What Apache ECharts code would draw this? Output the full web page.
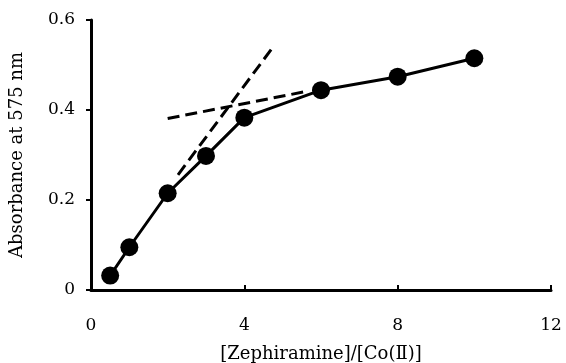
<!DOCTYPE html>
<html>
<head>
<meta charset="utf-8">
<script src="https://cdn.jsdelivr.net/npm/echarts@6/dist/echarts.min.js"></script>
</head>
<body style="margin:0">
<div id="chart" style="width:566px;height:363px"></div>
<script>
// measured points
const ratio = [0.5, 1, 2, 3, 4, 6, 8, 10];
const absorbance = [0.032, 0.095, 0.215, 0.298, 0.383, 0.444, 0.474, 0.515];
// tangent lines (dashed)
const steepLine = [[2.27, 0.256], [4.74, 0.539]];
const flatLine = [[2.0, 0.381], [5.54, 0.44]];

const font = "'DejaVu Serif', 'Liberation Serif', serif";
const chart = echarts.init(document.getElementById("chart"));
const dashStyle = { color: "#000", width: 3, type: [12, 6] };
let option = {
  animation: false,
  grid: { left: 91, right: 15, top: 20, bottom: 73, outerBoundsMode: "none" },
  xAxis: {
    type: "value",
    min: 0,
    max: 12,
    interval: 4,
    name: "[Zephiramine]/[Co(Ⅱ)]",
    nameLocation: "middle",
    nameGap: 55,
    nameTextStyle: { fontFamily: font, fontSize: 18, color: "#000" },
    axisLine: { onZero: false, lineStyle: { color: "#000", width: 3 } },
    axisTick: { inside: true, length: 5, lineStyle: { color: "#000", width: 2 } },
    axisLabel: { margin: 27, fontFamily: font, fontSize: 17, color: "#000" },
    splitLine: { show: false },
  },
  yAxis: {
    type: "value",
    min: 0,
    max: 0.6,
    interval: 0.2,
    name: "Absorbance at 575 nm",
    nameLocation: "middle",
    nameGap: 65,
    nameTextStyle: { fontFamily: font, fontSize: 18, color: "#000" },
    axisLine: { show: true, lineStyle: { color: "#000", width: 3 } },
    axisTick: { show: true, length: 5, lineStyle: { color: "#000", width: 2 } },
    axisLabel: { margin: 16, fontFamily: font, fontSize: 17, color: "#000" },
    splitLine: { show: false },
  },
  series: [
    {
      type: "line",
      data: steepLine,
      showSymbol: false,
      lineStyle: dashStyle,
      z: 1,
    },
    {
      type: "line",
      data: flatLine,
      showSymbol: false,
      lineStyle: dashStyle,
      z: 1,
    },
    {
      type: "line",
      data: ratio.map((x, i) => [x, absorbance[i]]),
      symbol: "circle",
      symbolSize: 18,
      itemStyle: { color: "#000" },
      lineStyle: { color: "#000", width: 3 },
      z: 3,
    },
  ],
};
chart.setOption(option);
</script>
</body>
</html>
